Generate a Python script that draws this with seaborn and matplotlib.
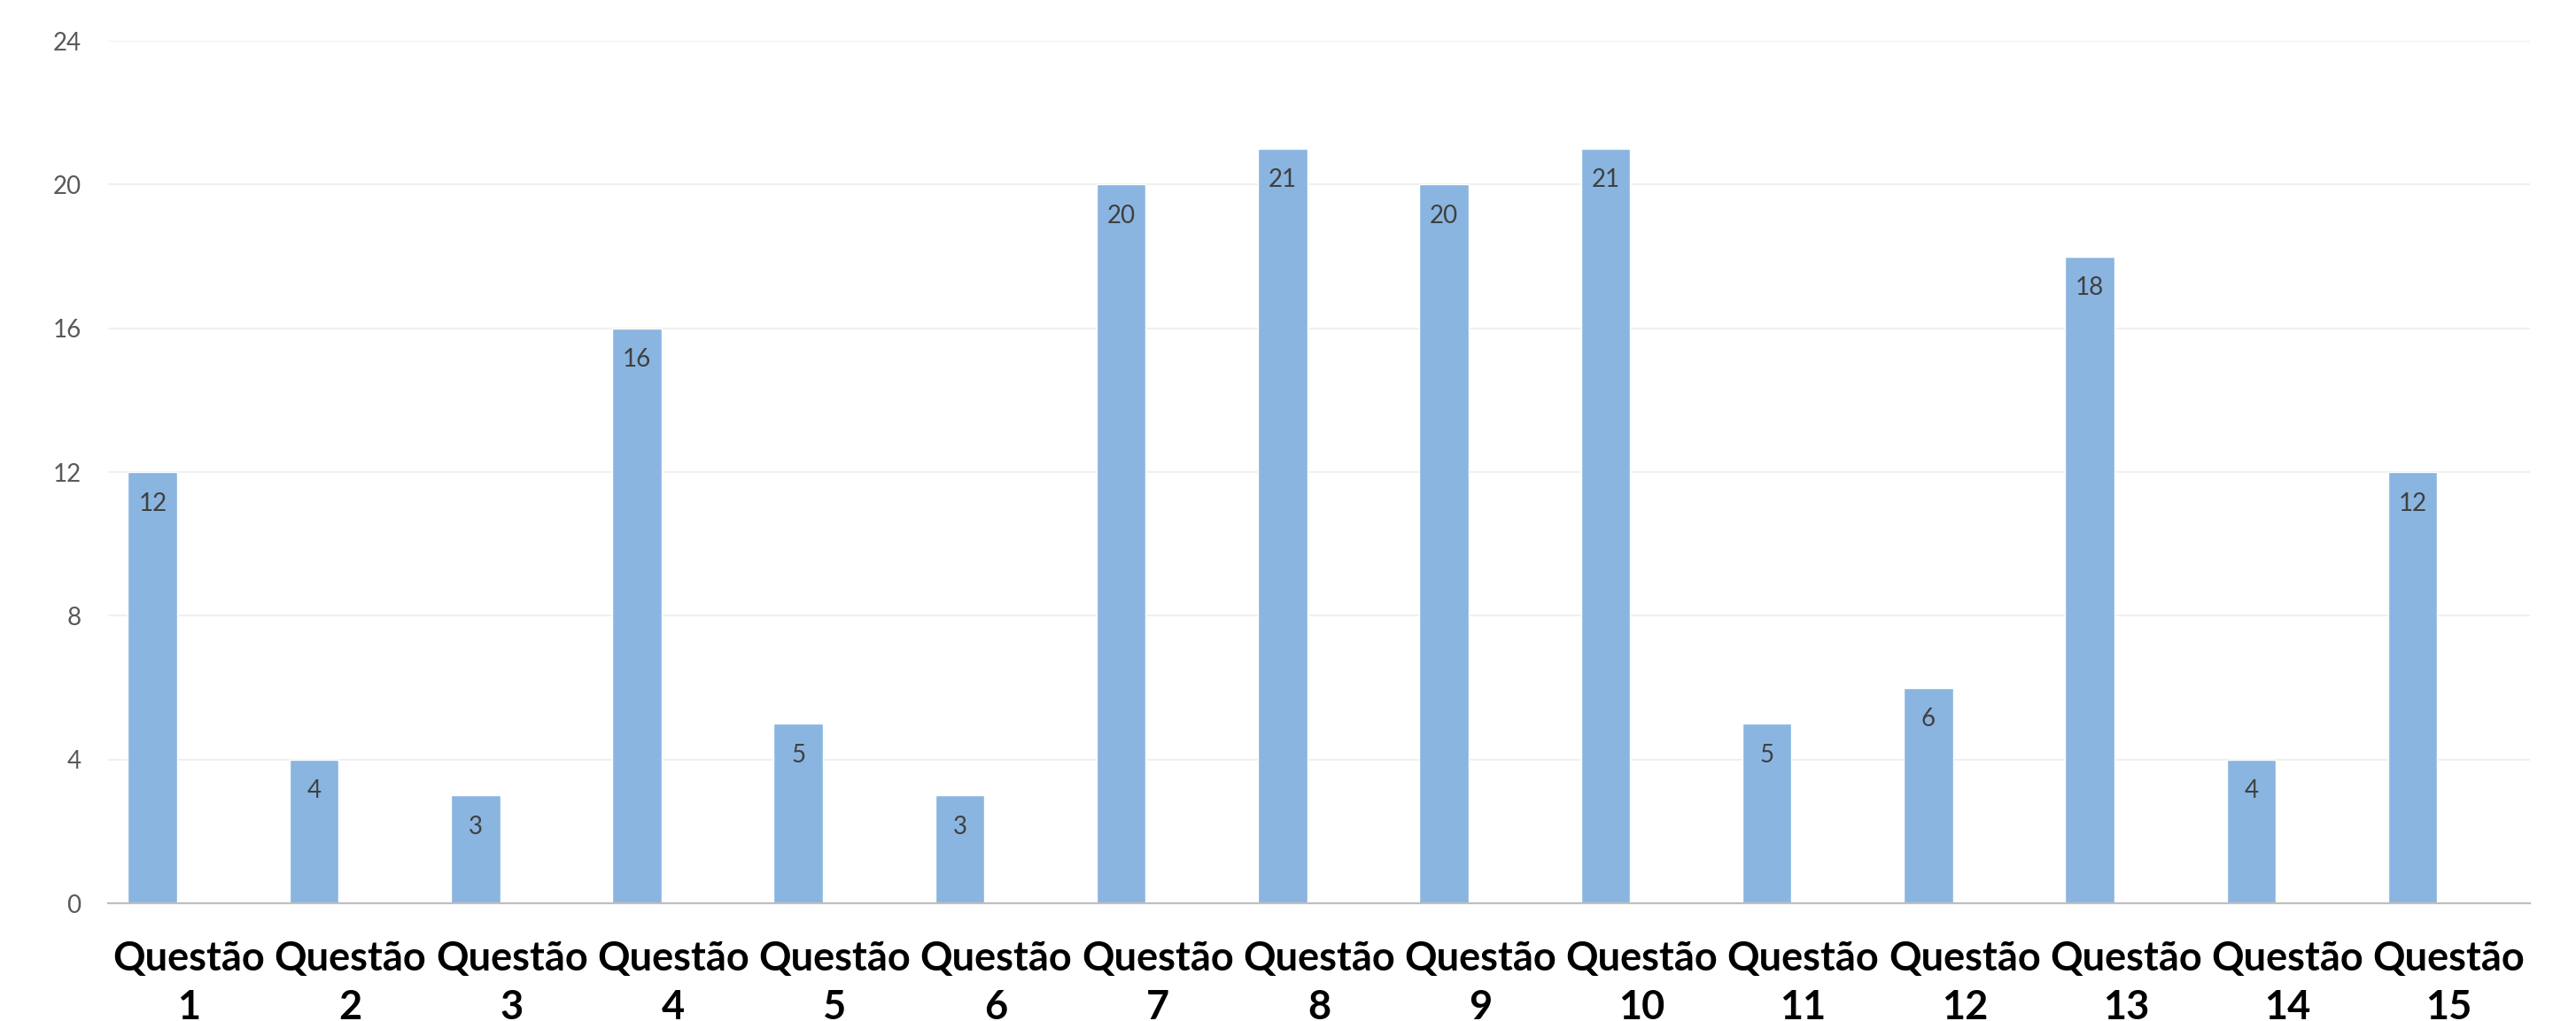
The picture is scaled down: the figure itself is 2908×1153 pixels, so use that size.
import numpy as np
import pandas as pd
import matplotlib
matplotlib.use("Agg")
import matplotlib.pyplot as plt
import seaborn as sns

# data
questoes = ["Questão 1", "Questão 2", "Questão 3", "Questão 4", "Questão 5",
            "Questão 6", "Questão 7", "Questão 8", "Questão 9", "Questão 10",
            "Questão 11", "Questão 12", "Questão 13", "Questão 14", "Questão 15"]
respostas = [12, 4, 3, 16, 5, 3, 20, 21, 20, 21, 5, 6, 18, 4, 12]
y_ticks = [0, 4, 8, 12, 16, 20, 24]

BAR_COLOR = "#8AB5E0"

sns.set_theme(style="white")
plt.rcParams['font.family'] = ['Lato', 'DejaVu Sans']

df = pd.DataFrame({"questao": questoes, "respostas": respostas})

fig = plt.figure(figsize=(29.08, 11.53), dpi=100)
ax = fig.add_axes([0.042, 0.1153, 0.94, 0.8447])

sns.barplot(data=df, x="questao", y="respostas", color=BAR_COLOR,
            width=0.305, saturation=1, ax=ax)

# Excel-like layout: bars sit left of the category centre
offset = 0.225
ax.set_xlim(-0.5 + offset, len(questoes) - 0.5 + offset)
ax.set_xticks(np.arange(len(questoes)) + offset,
              labels=[q.replace(" ", "\n") for q in questoes],
              fontsize=32.5, fontweight="bold", color="black", linespacing=1.4)
ax.set_ylim(0, 24)
ax.set_yticks(y_ticks)
ax.tick_params(axis="y", labelsize=20, labelcolor="#595959", length=0, pad=22)
ax.tick_params(axis="x", length=0, pad=30)
ax.set_xlabel("")
ax.set_ylabel("")

ax.yaxis.grid(True, color="#F0F0F0", linewidth=1.5)
ax.set_axisbelow(True)
for side in ("top", "right", "left"):
    ax.spines[side].set_visible(False)
ax.spines["bottom"].set_color("#BFBFBF")
ax.spines["bottom"].set_linewidth(1.6)

for c in ax.containers:
    ax.bar_label(c, labels=[str(v) for v in respostas], padding=-35,
                 fontsize=20, color="#404040")

fig.savefig("out.png", dpi=100)
